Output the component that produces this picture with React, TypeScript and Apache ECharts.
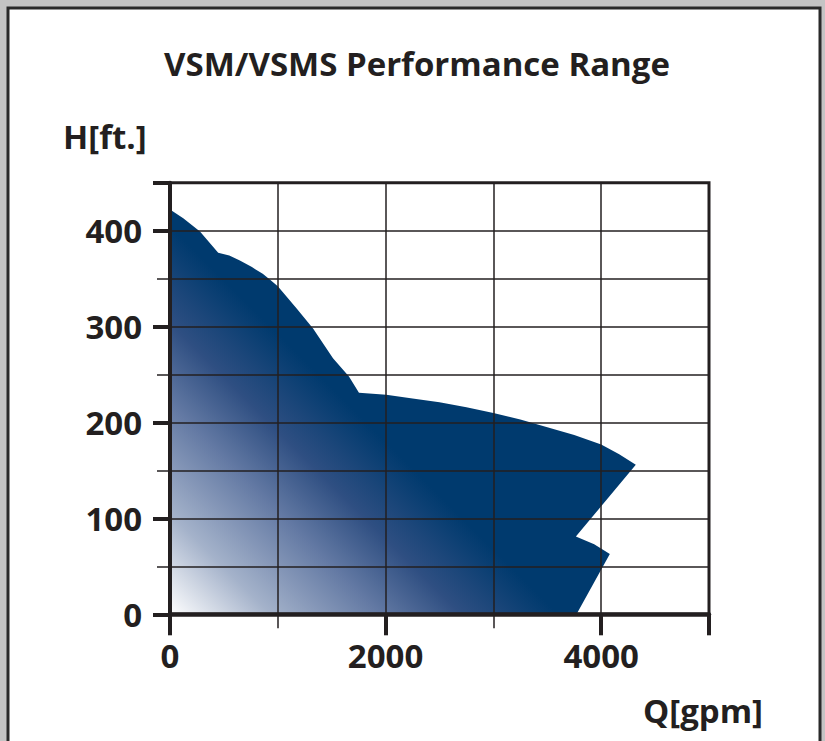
import React, { useEffect, useRef } from "react";
import * as echarts from "echarts";

const TITLE = "VSM/VSMS Performance Range";
const Y_NAME = "H[ft.]";
const X_NAME = "Q[gpm]";
const X_TICK_LABELS = ["0", "2000", "4000"];
const Y_TICK_LABELS = ["0", "100", "200", "300", "400"];

// Outline of the performance range, clockwise from the top of the H axis
const Q_VALUES = [0, 123, 278, 447, 550, 648, 760, 860, 926, 1000, 1173, 1327, 1512, 1660, 1753, 2006, 2250, 2500, 2750, 3000, 3250, 3500, 3750, 4000, 4167, 4321, 3765, 3935, 4080, 3771, 0];
const H_VALUES = [422, 413, 399, 377, 374, 369, 362, 355, 349, 342, 319, 298, 267, 248, 231, 229, 225, 221, 216, 210, 203, 195, 187, 177, 167, 156, 81, 73, 63, 0, 0];

const INK = "#231f20";
const NAVY = "#003a6e";
const FONT = "'Open Sans', 'Noto Sans', sans-serif";
const GRAD_SPAN = 1800; // in Q units along the bottom

export default function App() {
  const ref = useRef<HTMLDivElement>(null);
  useEffect(() => {
    document.body.style.margin = "0";
    const chart = echarts.init(ref.current!, null, { renderer: "svg" });
    const points = Q_VALUES.map((q, i) => [q, H_VALUES[i]]);
    const stops = [
      { offset: 0, color: "#ffffff" },
      { offset: 0.26, color: "#a4b2ca" },
      { offset: 0.54, color: "#647aa4" },
      { offset: 0.75, color: "#2f4f82" },
      { offset: 1, color: NAVY },
    ];
    const labelStyle = { color: INK, fontSize: 33, fontWeight: "bold" as const, fontFamily: FONT };
    chart.setOption({
      animation: false,
      backgroundColor: "#c4c4c4",
      graphic: [
        { type: "rect", z: -10, shape: { x: 8, y: 8, width: 812, height: 800 }, style: { fill: "#ffffff", stroke: "#2a2a2a", lineWidth: 3 } },
        { type: "text", x: 417, y: 63, style: { text: TITLE, align: "center", verticalAlign: "middle", fill: INK, font: `bold 33px ${FONT}` } },
        { type: "text", x: 63, y: 136, style: { text: Y_NAME, align: "left", verticalAlign: "middle", fill: INK, font: `bold 33px ${FONT}` } },
        { type: "text", x: 763, y: 710, style: { text: X_NAME, align: "right", verticalAlign: "middle", fill: INK, font: `bold 33px ${FONT}` } },
      ],
      grid: { left: 170, right: 116, top: 182.7, bottom: 126.7, show: true, borderColor: INK, borderWidth: 3, backgroundColor: "transparent", z: 6 },
      xAxis: [
        {
          type: "value", min: 0, max: 5000, interval: 1000, position: "bottom", z: 5,
          axisLine: { show: false },
          axisTick: { show: true, length: 14, lineStyle: { color: INK, width: 1.5 } },
          axisLabel: { show: false },
          splitLine: { show: true, lineStyle: { color: INK, width: 1.5 } },
        },
        {
          type: "value", min: 0, max: 5000, interval: 2000, position: "bottom", z: 7,
          axisLine: { show: true, onZero: false, lineStyle: { color: INK, width: 4.5 } },
          axisTick: { show: true, length: 21, lineStyle: { color: INK, width: 4 } },
          axisLabel: { ...labelStyle, margin: 25, formatter: (v: number) => (X_TICK_LABELS.includes(String(v)) ? String(v) : "") },
          splitLine: { show: false },
        },
      ],
      yAxis: [
        {
          type: "value", min: 0, max: 450, interval: 50, position: "left", z: 5,
          axisLine: { show: false },
          axisTick: { show: true, length: 13, lineStyle: { color: INK, width: 1.5 } },
          axisLabel: { show: false },
          splitLine: { show: true, lineStyle: { color: INK, width: 1.5 } },
        },
        {
          type: "value", min: 0, max: 450, interval: 100, position: "left", z: 7,
          axisLine: { show: true, onZero: false, lineStyle: { color: INK, width: 4 } },
          axisTick: { show: true, length: 17, lineStyle: { color: INK, width: 4 } },
          axisLabel: { ...labelStyle, margin: 28, formatter: (v: number) => (Y_TICK_LABELS.includes(String(v)) ? String(v) : "") },
          splitLine: { show: false },
        },
      ],
      series: [
        {
          type: "custom",
          xAxisIndex: 0,
          yAxisIndex: 0,
          z: 2,
          data: points,
          renderItem: (params: any, api: any) => {
            if (params.dataIndex !== 0) return null;
            const pts = points.map((p) => api.coord(p));
            const p0 = api.coord([0, 0]);
            const p1 = api.coord([GRAD_SPAN, 0]);
            const d = p1[0] - p0[0];
            return {
              type: "polygon",
              shape: { points: pts },
              style: { fill: new echarts.graphic.LinearGradient(p0[0], p0[1], p0[0] + d, p0[1] - d, stops, true) },
            };
          },
        },
      ],
    });
    return () => chart.dispose();
  }, []);
  return <div ref={ref} style={{ position: "fixed", left: 0, top: 0, width: 825, height: 741 }} />;
}
